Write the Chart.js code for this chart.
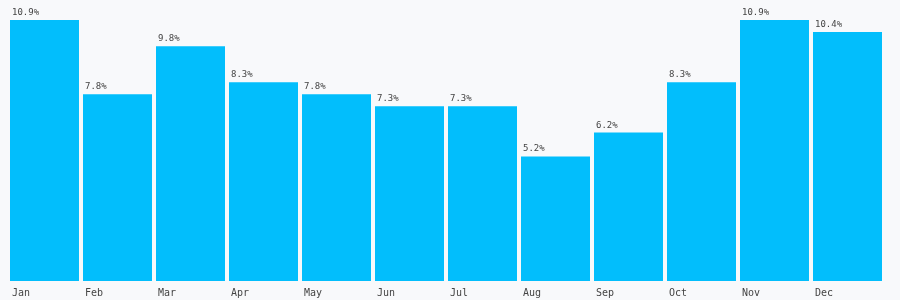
<!DOCTYPE html>
<html>
<head>
<meta charset="utf-8">
<script src="https://cdn.jsdelivr.net/npm/chart.js@4"></script>
<style>
  html, body { margin: 0; padding: 0; background: #f8f9fb; }
  #wrap { width: 900px; height: 300px; }
</style>
</head>
<body>
<div id="wrap"><canvas id="monthChart"></canvas></div>
<script>
// dane
const months = ["Jan", "Feb", "Mar", "Apr", "May", "Jun", "Jul", "Aug", "Sep", "Oct", "Nov", "Dec"];
const shares = [10.9, 7.8, 9.8, 8.3, 7.8, 7.3, 7.3, 5.2, 6.2, 8.3, 10.9, 10.4];

const FONT = "'DejaVu Sans Mono', monospace";

// etykiety nad slupkami, wyrownane do lewej krawedzi slupka
const topLabels = {
    id: "topLabels",
    afterDatasetsDraw(chart) {
        const ctx = chart.ctx;
        const meta = chart.getDatasetMeta(0);
        ctx.save();
        ctx.font = "9px " + FONT;
        ctx.fillStyle = "#444";
        ctx.textAlign = "left";
        ctx.textBaseline = "alphabetic";
        meta.data.forEach((bar, i) => {
            const left = bar.x - bar.width / 2;
            ctx.fillText(shares[i].toFixed(1) + "%", left + 2, bar.y - 5);
        });
        ctx.restore();
    }
};

new Chart(document.getElementById("monthChart").getContext("2d"), {
    type: "bar",
    data: {
        labels: months,
        datasets: [{
            data: shares,
            backgroundColor: "#02befc",
            borderWidth: 0,
            barPercentage: 69 / 73,
            categoryPercentage: 1
        }]
    },
    options: {
        responsive: true,
        maintainAspectRatio: false,
        animation: false,
        layout: { padding: { left: 8, right: 16, top: 20, bottom: -5 } },
        plugins: {
            legend: { display: false },
            tooltip: { enabled: false }
        },
        scales: {
            x: {
                grid: { display: false, drawTicks: false },
                border: { display: false },
                ticks: {
                    align: "start",
                    labelOffset: -32.5,
                    padding: 6,
                    maxRotation: 0,
                    autoSkip: false,
                    color: "#444",
                    font: { family: FONT, size: 10 }
                }
            },
            y: {
                display: false,
                min: 0,
                max: 10.9
            }
        }
    },
    plugins: [topLabels]
});
</script>
</body>
</html>
